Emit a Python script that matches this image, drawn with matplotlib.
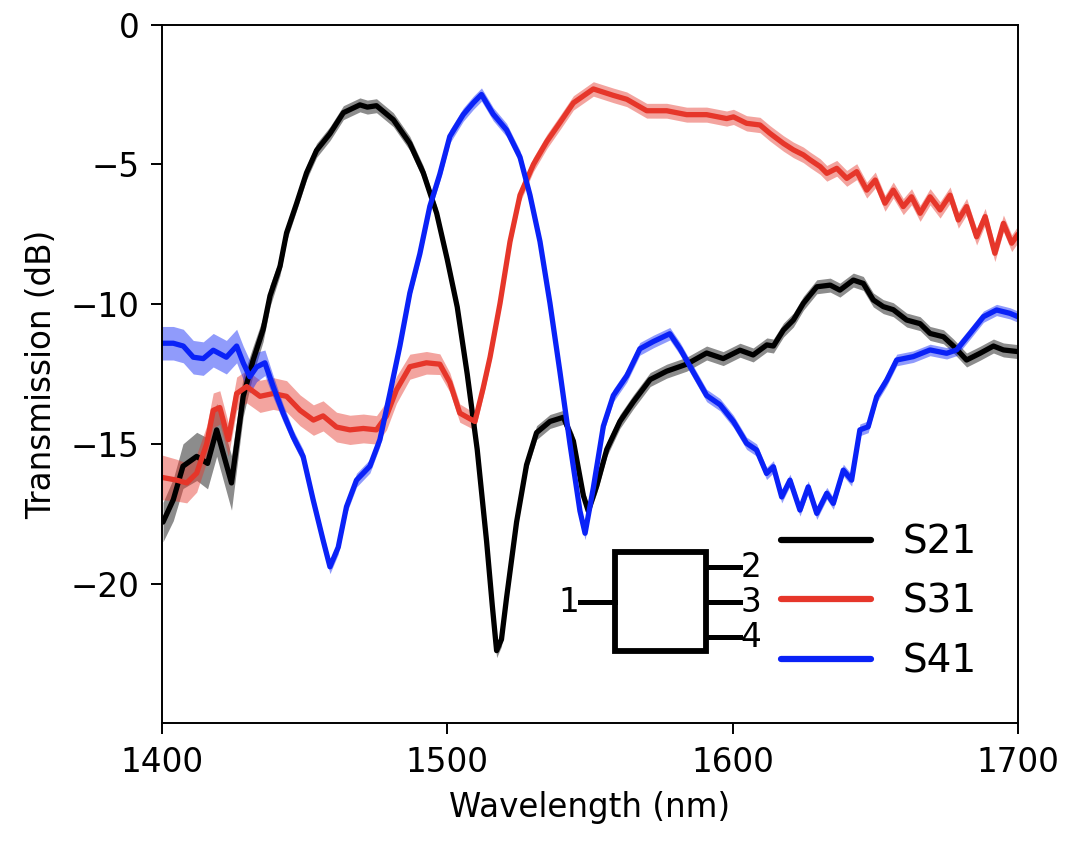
import numpy as np
import matplotlib
matplotlib.use("Agg")
import matplotlib.pyplot as plt
from matplotlib.patches import Rectangle

# S21 (port 1 -> 2)
s21_wl = [1400.4, 1404, 1407.4, 1412.2, 1416, 1419.2, 1424.4, 1428.5, 1432, 1435.5,
          1437.9, 1441.4, 1443.7, 1447.2, 1450.7, 1454.2, 1458.9, 1463.6, 1469.4, 1472,
          1475.2, 1481.1, 1486.9, 1491.6, 1496.3, 1500, 1503.5, 1507, 1510.5, 1513.8,
          1515.8, 1517.3, 1519, 1520.8, 1524.3, 1527.8, 1531.3, 1536, 1540.7, 1544.2,
          1547.7, 1549.4, 1552.4, 1555.9, 1560.5, 1565.2, 1571.1, 1576.9, 1583.9, 1590.9,
          1596.7, 1602.6, 1607.2, 1612, 1614.3, 1617.8, 1621.3, 1624.8, 1629.5, 1634.2,
          1637.6, 1642.3, 1645.8, 1649.3, 1652.8, 1656.3, 1661, 1665.7, 1669.2, 1673.9,
          1677.4, 1682, 1686.7, 1691.4, 1694.9, 1700]
s21_db = [-17.8, -17.0, -15.8, -15.45, -15.7, -14.5, -16.4, -13.3, -12.0, -10.9,
          -9.7, -8.65, -7.45, -6.4, -5.3, -4.5, -3.9, -3.15, -2.87, -2.95,
          -2.9, -3.4, -4.25, -5.3, -6.75, -8.4, -10.1, -12.5, -15.2, -18.5,
          -20.8, -22.4, -22.0, -20.5, -17.8, -15.75, -14.6, -14.2, -14.05, -14.9,
          -16.85, -17.4, -16.5, -15.2, -14.2, -13.5, -12.7, -12.4, -12.15, -11.75,
          -11.95, -11.65, -11.82, -11.46, -11.5, -10.93, -10.57, -9.97, -9.38, -9.32,
          -9.5, -9.14, -9.26, -9.85, -10.09, -10.2, -10.57, -10.7, -11.05, -11.17,
          -11.5, -12.0, -11.76, -11.5, -11.64, -11.7]

# S31 (port 1 -> 3)
s31_wl = [1400, 1405.2, 1408.7, 1412.2, 1415.7, 1418, 1420.3, 1423.3, 1426.2, 1429.7,
          1434.4, 1439, 1443.7, 1448.4, 1453.1, 1456.5, 1461.2, 1465.9, 1470.6, 1475.2,
          1478.7, 1482.2, 1486.9, 1492.7, 1497.4, 1500.9, 1504.4, 1507.9, 1509.7, 1512.6,
          1515, 1518.5, 1522, 1525.5, 1530.2, 1534.9, 1539.6, 1544.2, 1551.2, 1558.2,
          1562.9, 1569.9, 1576.9, 1583.9, 1590.9, 1597.9, 1600.3, 1604.9, 1609.6, 1613.1,
          1617.8, 1621.3, 1624.8, 1627.2, 1630.7, 1633, 1636.5, 1640, 1643.5, 1647,
          1650, 1653.4, 1656.3, 1659.8, 1662.7, 1665.7, 1669.2, 1672.7, 1676.2, 1679.1,
          1682, 1685.5, 1688.5, 1691.9, 1694.9, 1697.8, 1700]
s31_db = [-16.2, -16.3, -16.4, -16.05, -15.0, -13.8, -13.7, -14.85, -13.2, -12.95,
          -13.3, -13.2, -13.3, -13.8, -14.15, -14.0, -14.4, -14.5, -14.45, -14.5,
          -14.0, -13.07, -12.24, -12.1, -12.15, -12.8, -13.9, -14.1, -14.2, -13.0,
          -11.9, -9.97, -7.76, -6.1, -5.0, -4.18, -3.49, -2.8, -2.3, -2.53,
          -2.67, -3.08, -3.08, -3.22, -3.22, -3.36, -3.3, -3.53, -3.59, -3.89,
          -4.25, -4.48, -4.66, -4.84, -5.08, -5.32, -5.14, -5.5, -5.26, -5.92,
          -5.56, -6.39, -5.92, -6.51, -6.16, -6.75, -6.16, -6.63, -6.1, -6.99,
          -6.51, -7.59, -6.87, -8.18, -7.11, -7.82, -7.5]

# S41 (port 1 -> 4)
s41_wl = [1400, 1404, 1407.5, 1411, 1414.5, 1418, 1422.6, 1426.2, 1428.5, 1430.8,
          1433.2, 1436.1, 1439, 1442.5, 1446, 1449.5, 1453, 1456.5, 1458.9, 1461.8,
          1464.7, 1468.2, 1472.9, 1476.4, 1479.9, 1483.4, 1486.9, 1490.4, 1493.9, 1497.4,
          1500.9, 1505.6, 1509.1, 1512, 1516.1, 1520.8, 1525.5, 1529, 1532.5, 1536,
          1539.5, 1543, 1546.5, 1548.3, 1551.2, 1554.7, 1558.2, 1562.9, 1567.5, 1572.2,
          1578, 1581.6, 1586.2, 1590.9, 1595.6, 1600.3, 1604.9, 1608.4, 1611.9, 1614.3,
          1617.2, 1620.1, 1623.6, 1626.5, 1629.5, 1633, 1635.3, 1638.8, 1641.7, 1644.6,
          1647.5, 1650.5, 1654, 1657.5, 1663.3, 1669.2, 1675, 1678.5, 1683.2, 1687.9,
          1692.5, 1697.2, 1700]
s41_db = [-11.4, -11.4, -11.5, -11.9, -11.95, -11.65, -11.9, -11.5, -12.1, -12.6,
          -12.25, -12.1, -12.95, -13.9, -14.75, -15.45, -17.0, -18.45, -19.4, -18.7,
          -17.25, -16.3, -15.8, -14.85, -13.2, -11.5, -9.6, -8.2, -6.5, -5.35,
          -4.0, -3.22, -2.8, -2.5, -3.2, -3.77, -4.74, -6.1, -7.76, -9.97,
          -12.43, -15.0, -17.4, -18.2, -16.57, -14.37, -13.27, -12.57, -11.6, -11.34,
          -11.06, -11.6, -12.43, -13.27, -13.6, -14.2, -14.98, -15.22, -16.06, -15.82,
          -16.9, -16.3, -17.37, -16.54, -17.49, -16.77, -17.13, -15.94, -16.3, -14.5,
          -14.39, -13.31, -12.72, -12.0, -11.88, -11.64, -11.76, -11.64, -11.05, -10.45,
          -10.21, -10.33, -10.45]

# spread of the repeated measurements (half width of the shaded band), read at a few wavelengths
s21_band_wl = [1400, 1415, 1424, 1432, 1445, 1700]
s21_band = [0.7, 0.9, 1.0, 0.5, 0.25, 0.25]
s31_band_wl = [1400, 1420, 1480, 1500, 1520, 1700]
s31_band = [0.8, 0.6, 0.5, 0.35, 0.25, 0.3]
s41_band_wl = [1400, 1430, 1445, 1700]
s41_band = [0.6, 0.6, 0.25, 0.2]

series = [
    ("S21", s21_wl, s21_db, s21_band_wl, s21_band, "#000000"),
    ("S31", s31_wl, s31_db, s31_band_wl, s31_band, "#e6362a"),
    ("S41", s41_wl, s41_db, s41_band_wl, s41_band, "#0a22f7"),
]

plt.rcParams["font.family"] = "DejaVu Sans"
fig, ax = plt.subplots(figsize=(10.72, 8.42), dpi=100)
fig.subplots_adjust(left=0.151, right=0.9496, top=0.9707, bottom=0.141)

for name, wl, db, bwl, bw, col in series:
    wl = np.array(wl)
    db = np.array(db)
    half = np.interp(wl, bwl, bw)
    ax.fill_between(wl, db - half, db + half, color=col, alpha=0.45, lw=0)
    ax.plot(wl, db, color=col, lw=3.8, label=name,
            solid_joinstyle="round", solid_capstyle="round")

ax.set_xlim(1400, 1700)
ax.set_ylim(-25, 0)
ax.set_xticks([1400, 1500, 1600, 1700])
ax.set_yticks([0, -5, -10, -15, -20])
ax.tick_params(labelsize=23.5, length=8.2, width=1.4, pad=8)
for sp in ax.spines.values():
    sp.set_linewidth(1.4)
ax.set_xlabel("Wavelength (nm)", fontsize=23.5, labelpad=9)
ax.set_ylabel("Transmission (dB)", fontsize=23.5, labelpad=9)

# little 4-port device sketch
ax.add_patch(Rectangle((1558.8, -22.42), 31.9, 3.55, fill=False, lw=4.2, color="black"))
ax.plot([1546.5, 1558.8], [-20.67, -20.67], color="black", lw=3.6)
for yp, lab in zip([-19.41, -20.67, -21.92], ["2", "3", "4"]):
    ax.plot([1590.7, 1602.6], [yp, yp], color="black", lw=3.6)
    ax.text(1602.8, yp, lab, fontsize=23.5, ha="left", va="center")
ax.text(1546.3, -20.67, "1", fontsize=23.5, ha="right", va="center")

leg = ax.legend(loc="center left", bbox_to_anchor=(0.7056, 0.1736), frameon=False,
                fontsize=28, handlelength=2.3, handletextpad=0.8, labelspacing=0.55,
                borderaxespad=0)
for ln in leg.get_lines():
    ln.set_linewidth(4.5)

fig.savefig("out.png", dpi=100)
